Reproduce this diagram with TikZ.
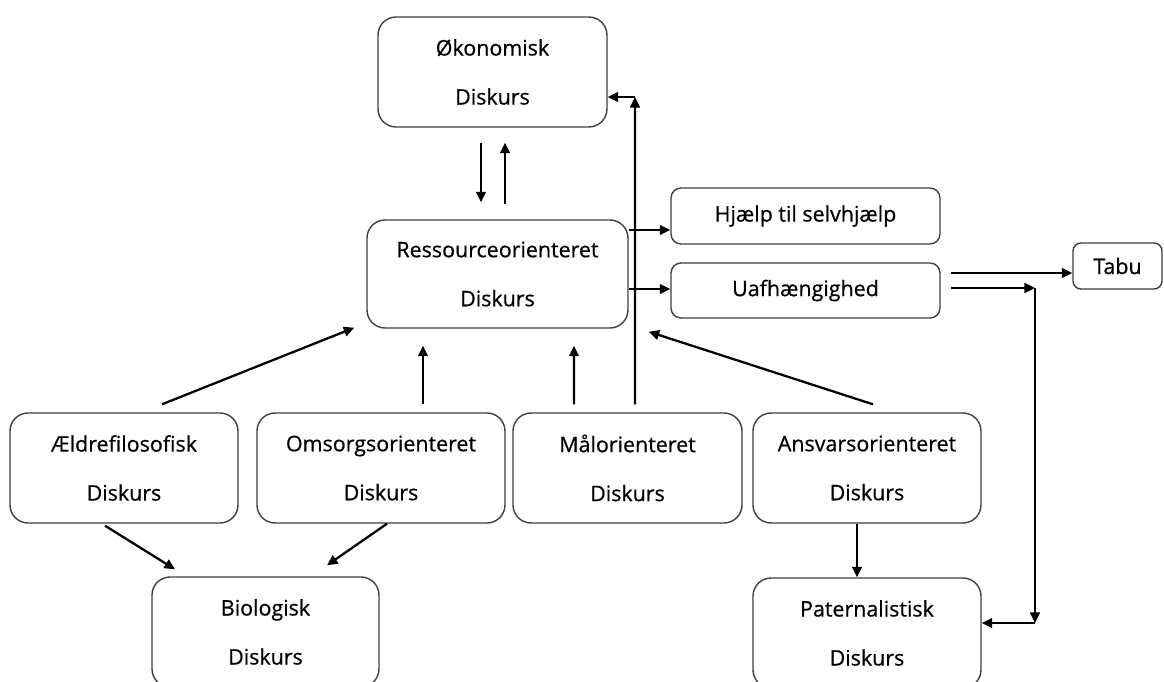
\documentclass[tikz,border=0pt]{standalone}
\usepackage{fontspec}
\setmainfont{Open Sans}[FakeBold=0.6]
\usetikzlibrary{arrows.meta,calc}

\begin{document}
\begin{tikzpicture}[x=0.02cm,y=-0.02cm,
	diskurs/.style={draw=black!75, line width=0.8pt, rounded corners=0.36cm, minimum height=2.2cm, align=center, font=\fontsize{12.2}{27.9}\selectfont},
	smallbox/.style={draw=black!75, line width=0.8pt, rounded corners=0.2cm, minimum height=1.1cm, font=\fontsize{12.2}{14}\selectfont},
	arr/.style={-{Triangle[length=6pt,width=5.5pt]}, line width=1.3pt}]
	\clip (0,0) rectangle (1164,682);
	\fill[white] (0,0) rectangle (1164,682);

	% boxes
	\node[diskurs, minimum width=4.58cm] (oek) at (492.5,72) {Økonomisk\\Diskurs};
	\node[diskurs, minimum width=5.22cm, minimum height=2.16cm] (ress) at (497.5,274) {Ressourceorienteret\\Diskurs};
	\node[smallbox, minimum width=5.38cm, minimum height=1.12cm] (hjaelp) at (805.5,216) {Hjælp til selvhjælp};
	\node[smallbox, minimum width=5.38cm] (uafh) at (805.5,290.5) {Uafhængighed};
	\node[smallbox, minimum width=1.78cm, minimum height=0.92cm, rounded corners=0.16cm] (tabu) at (1117.5,266) {Tabu};
	\node[diskurs, minimum width=4.56cm] (aeldre) at (124,468) {Ældrefilosofisk\\Diskurs};
	\node[diskurs, minimum width=4.96cm] (omsorg) at (381,468) {Omsorgsorienteret\\Diskurs};
	\node[diskurs, minimum width=4.58cm] (maal) at (627.5,468) {Målorienteret\\Diskurs};
	\node[diskurs, minimum width=4.56cm] (ansvar) at (867,468) {Ansvarsorienteret\\Diskurs};
	\node[diskurs, minimum width=4.54cm] (bio) at (265.5,632) {Biologisk\\Diskurs};
	\node[diskurs, minimum width=4.56cm] (pater) at (867,633) {Paternalistisk\\Diskurs};

	% corners of the long connectors
	\coordinate (knee0) at (635,97);
	\coordinate (knee1) at (1035,288);
	\coordinate (knee2) at (1035,623);

	% arrows
	\draw[arr] ($(oek.south)+(-11.5,15)$) -- ($(ress.north)+(-16.5,-17)$);
	\draw[arr] ($(ress.north)+(7.5,-15)$) -- ($(oek.south)+(12.5,15)$);
	\draw[arr] ($(ress.east)+(0,-44)$) -- ($(hjaelp.west)+(0,14)$);
	\draw[arr] ($(ress.east)+(0,15)$) -- ($(uafh.west)+(0,-1.5)$);
	\draw[arr] ($(uafh.east)+(10,-17.5)$) -- ($(tabu.west)+(0,7)$);
	\draw[arr] ($(uafh.east)+(10,-2.5)$) -- (knee1);
	\draw[arr] (knee1) -- (knee2);
	\draw[arr] (knee2) -- (pater.east |- knee2);
	\draw[arr] ($(maal.north)+(7.5,-8)$) -- (knee0);
	\draw[arr] (knee0) -- (oek.east |- knee0);
	\draw[arr] ($(maal.north)+(-53.5,-8)$) -- ($(ress.south)+(76.5,17)$);
	\draw[arr] ($(omsorg.north)+(42,-8)$) -- ($(ress.south)+(-74.5,17)$);
	\draw[arr] ($(aeldre.north)+(38,-8)$) -- ($(ress.south west)+(-12,-1)$);
	\draw[arr] ($(ansvar.north)+(6,-8)$) -- ($(ress.south east)+(20,3)$);
	\draw[arr] ($(ansvar.south)+(-10,0)$) -- ($(pater.north)+(-10,0)$);
	\draw[arr] ($(aeldre.south)+(-19,2)$) -- ($(bio.north)+(-90.5,-7)$);
	\draw[arr] ($(omsorg.south)+(6,0)$) -- ($(bio.north)+(61.5,-11)$);
\end{tikzpicture}
\end{document}
